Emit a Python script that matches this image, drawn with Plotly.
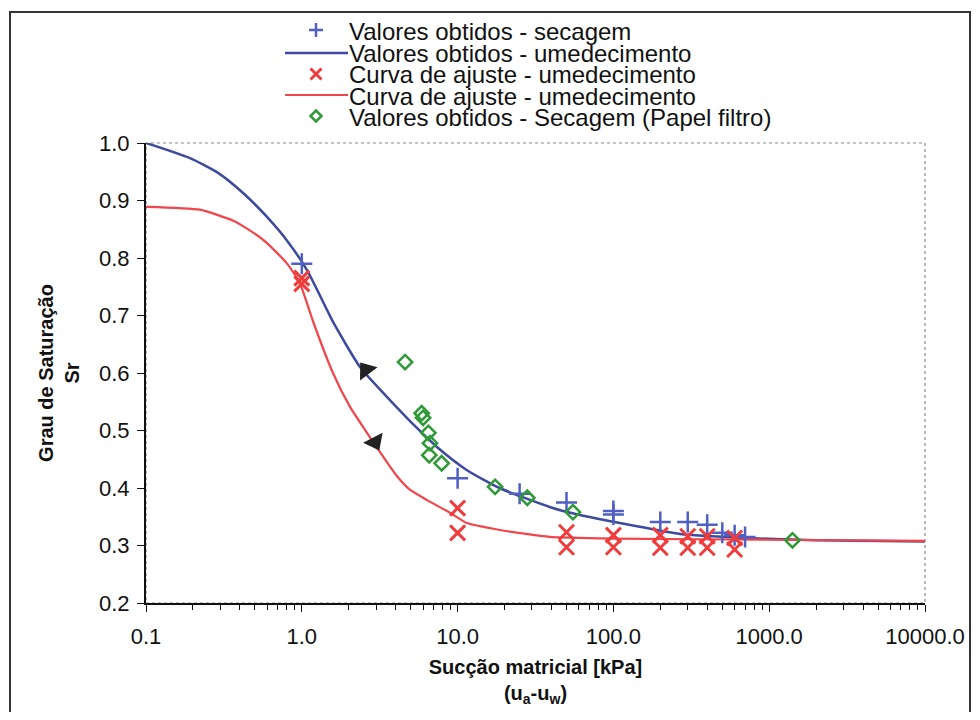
import plotly.graph_objects as go

# ---------------- data ----------------
names = [
    "Valores obtidos - secagem",
    "Valores obtidos - umedecimento",
    "Curva de ajuste - umedecimento",
    "Curva de ajuste - umedecimento",
    "Valores obtidos - Secagem (Papel filtro)",
]

sec_x = [1.0, 10, 25, 50, 100, 100, 200, 300, 400, 500, 600, 700]
sec_y = [0.79, 0.417, 0.39, 0.375, 0.36, 0.354, 0.341, 0.341, 0.336, 0.322, 0.318, 0.315]

blue_x = [0.1, 0.19, 0.29, 0.42, 0.6, 0.8, 1.08, 1.45, 1.6, 2.37, 3.68, 5.5, 7.4,
          11.5, 18.6, 39, 61, 126, 268, 725, 2000, 10000]
blue_y = [1.0, 0.974, 0.948, 0.913, 0.871, 0.831, 0.779, 0.71, 0.687, 0.61, 0.553,
          0.504, 0.471, 0.431, 0.40, 0.367, 0.353, 0.336, 0.32, 0.313, 0.309, 0.307]

fitpt_x = [1.0, 1.0, 10, 10, 50, 50, 100, 100, 200, 200, 300, 300, 400, 400, 600, 600]
fitpt_y = [0.765, 0.755, 0.365, 0.322, 0.323, 0.297, 0.318, 0.297, 0.318, 0.296,
           0.316, 0.296, 0.316, 0.296, 0.313, 0.293]

red_x = [0.1, 0.222, 0.363, 0.464, 0.598, 0.80, 0.97, 1.18, 1.585, 2.04, 2.62, 3.32,
         4.1, 4.94, 6.37, 8.94, 11.5, 18.7, 39, 100, 1000, 10000]
red_y = [0.889, 0.884, 0.865, 0.848, 0.826, 0.791, 0.757, 0.69, 0.60, 0.541, 0.496,
         0.455, 0.42, 0.397, 0.379, 0.357, 0.339, 0.327, 0.315, 0.312, 0.31, 0.308]

pf_x = [4.6, 5.88, 6.0, 6.49, 6.65, 6.58, 7.9, 17.4, 28, 55, 1410]
pf_y = [0.619, 0.530, 0.522, 0.496, 0.478, 0.457, 0.443, 0.402, 0.383, 0.358, 0.309]

# direction arrows on the curves
arrow_x = [2.58, 2.95]
arrow_y = [0.605, 0.48]
arrow_angle = [-37, 153]

x_tickvals = [0.1, 1, 10, 100, 1000, 10000]
x_ticktext = ["0.1", "1.0", "10.0", "100.0", "1000.0", "10000.0"]
x_minor = [m * 10 ** e for e in range(-1, 4) for m in range(2, 10)]

y_title = "<b>Grau de Saturação<br>Sr</b>"
x_title = "<b>Sucção matricial [kPa]<br>(u<sub>a</sub>-u<sub>w</sub>)</b>"

# ---------------- styling ----------------
FONT = "Arial, 'Liberation Sans', sans-serif"
BLUE_LINE = "#3d4a9e"
BLUE_MK = "#4f5fc4"
RED_LINE = "#f2454a"
RED_MK = "#f03c3c"
GREEN = "#2e9a36"

OFF = 8  # page body margin
W, H = 964, 704
L, T = 138, 135
R = W - (925 - OFF)
B = H - (603 - OFF)
PW, PH = W - L - R, H - T - B


def px_x(px):
    return (px - OFF - L) / PW


def px_y(py):
    return (H - B - (py - OFF)) / PH


fig = go.Figure()

fig.add_trace(go.Scatter(x=blue_x, y=blue_y, mode="lines", name=names[1],
                         line=dict(color=BLUE_LINE, width=2.5, shape="spline", smoothing=0.6)))
fig.add_trace(go.Scatter(x=red_x, y=red_y, mode="lines", name=names[3],
                         line=dict(color=RED_LINE, width=2.2, shape="spline", smoothing=0.5)))
fig.add_trace(go.Scatter(x=sec_x, y=sec_y, mode="markers", name=names[0],
                         marker=dict(symbol="cross-thin", size=15,
                                     line=dict(color=BLUE_MK, width=2.5))))
fig.add_trace(go.Scatter(x=fitpt_x, y=fitpt_y, mode="markers", name=names[2],
                         marker=dict(symbol="x-thin", size=15,
                                     line=dict(color=RED_MK, width=3))))
fig.add_trace(go.Scatter(x=pf_x, y=pf_y, mode="markers", name=names[4],
                         marker=dict(symbol="diamond-open", size=11, color=GREEN,
                                     line=dict(color=GREEN, width=2.5))))
fig.add_trace(go.Scatter(x=arrow_x, y=arrow_y, mode="markers", showlegend=False,
                         marker=dict(symbol="triangle-up", size=19, color="#222222",
                                     angle=arrow_angle, line=dict(width=0))))

shapes = []
# plot-area dotted border (top / right)
shapes.append(dict(type="rect", xref="paper", yref="paper", x0=0, x1=1, y0=0, y1=1,
                   line=dict(color="#8a8a8a", width=1.2, dash="dot"), layer="below"))
# outer chart border
shapes.append(dict(type="rect", xref="paper", yref="paper",
                   x0=px_x(10), x1=px_x(970), y0=px_y(740), y1=px_y(12),
                   line=dict(color="#333333", width=2)))

# manual legend
rows = [30, 52, 74, 95, 116]
sym_cx = 316
shapes.append(dict(type="path", xref="paper", yref="paper", xsizemode="pixel", ysizemode="pixel",
                   xanchor=px_x(sym_cx), yanchor=px_y(rows[0]),
                   path="M-7,0 L7,0 M0,-7 L0,7", line=dict(color=BLUE_MK, width=2.5)))
shapes.append(dict(type="line", xref="paper", yref="paper",
                   x0=px_x(285), x1=px_x(348), y0=px_y(53), y1=px_y(53),
                   line=dict(color=BLUE_LINE, width=2.5)))
shapes.append(dict(type="path", xref="paper", yref="paper", xsizemode="pixel", ysizemode="pixel",
                   xanchor=px_x(sym_cx), yanchor=px_y(rows[2]),
                   path="M-5.5,-5.5 L5.5,5.5 M-5.5,5.5 L5.5,-5.5", line=dict(color=RED_MK, width=3)))
shapes.append(dict(type="line", xref="paper", yref="paper",
                   x0=px_x(285), x1=px_x(348), y0=px_y(95), y1=px_y(95),
                   line=dict(color=RED_LINE, width=2.2)))
shapes.append(dict(type="path", xref="paper", yref="paper", xsizemode="pixel", ysizemode="pixel",
                   xanchor=px_x(sym_cx), yanchor=px_y(rows[4]),
                   path="M0,-5.5 L5.5,0 L0,5.5 L-5.5,0 Z", line=dict(color=GREEN, width=2.5)))

annotations = []
for i, name in enumerate(names):
    annotations.append(dict(text=name, xref="paper", yref="paper", x=px_x(347), y=px_y(rows[i] + 1),
                            xanchor="left", yanchor="middle", showarrow=False,
                            font=dict(family=FONT, size=24, color="#111111")))

fig.update_layout(
    width=W, height=H,
    margin=dict(l=L, r=R, t=T, b=B, autoexpand=False),
    paper_bgcolor="white", plot_bgcolor="white",
    showlegend=False,
    font=dict(family=FONT, color="#111111"),
    shapes=shapes,
    annotations=annotations,
    xaxis=dict(type="log", range=[-1, 4], tickmode="array", tickvals=x_tickvals,
               ticktext=x_ticktext, ticks="outside", ticklen=7, tickwidth=1.3,
               tickcolor="#111111", ticklabelstandoff=6,
               minor=dict(tickmode="array", tickvals=x_minor, ticks="outside",
                          ticklen=5, tickwidth=1.2, tickcolor="#111111", showgrid=False),
               showline=True, linecolor="#111111", linewidth=1.8, showgrid=False,
               zeroline=False, tickfont=dict(family=FONT, size=22, color="#111111"),
               title=dict(text=x_title, standoff=12,
                          font=dict(family=FONT, size=20, color="#111111"))),
    yaxis=dict(range=[0.2, 1.0], dtick=0.1, tick0=0.2, tickformat=".1f",
               ticks="outside", ticklen=7, tickwidth=1.3, tickcolor="#111111",
               ticklabelstandoff=3,
               showline=True, linecolor="#111111", linewidth=2, showgrid=False,
               zeroline=False, tickfont=dict(family=FONT, size=22, color="#111111"),
               title=dict(text=y_title, standoff=14,
                          font=dict(family=FONT, size=20, color="#111111"))),
)

fig.write_html("out.html")
